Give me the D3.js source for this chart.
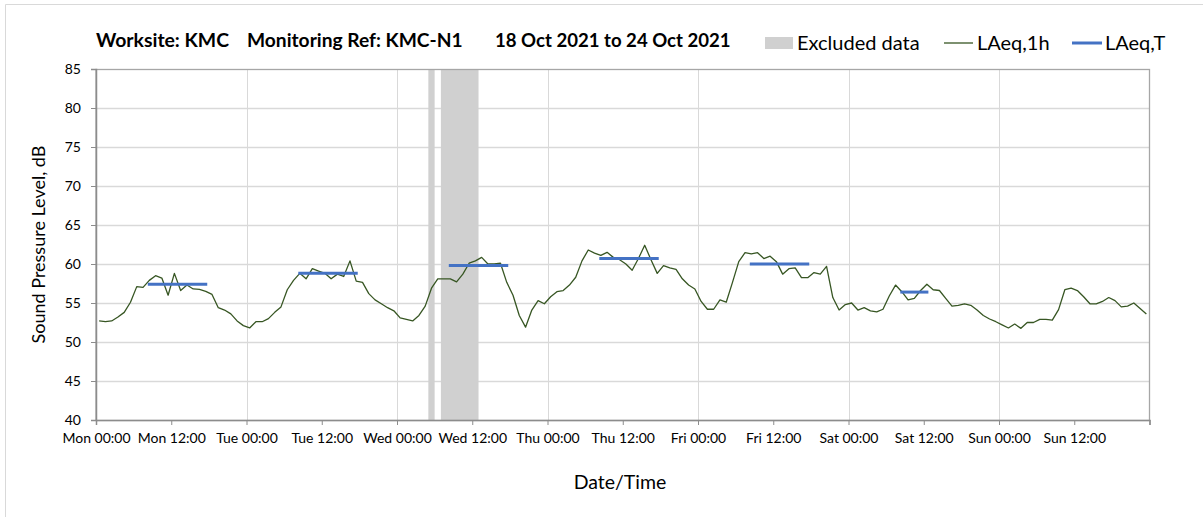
<!DOCTYPE html>
<html>
<head>
<meta charset="utf-8">
<script src="https://cdn.jsdelivr.net/npm/d3@7"></script>
<style>
  body { margin: 0; background: #fff; }
  svg text { font-family: Lato, "Open Sans", sans-serif; fill: #000; }
</style>
</head>
<body>
<div id="chart"></div>
<script>
// hourly LAeq,1h values, one array per day (00:00 .. 23:00)
const days = ['Mon', 'Tue', 'Wed', 'Thu', 'Fri', 'Sat', 'Sun'];
const laeqMon = [52.7, 52.6, 52.7, 53.2, 53.8, 55.1, 57.1, 57.0, 57.9, 58.5, 58.2, 56.0, 58.8, 56.6, 57.3, 56.8, 56.75, 56.5, 56.1, 54.4, 54.1, 53.6, 52.7, 52.1];
const laeqTue = [51.8, 52.6, 52.6, 53.0, 53.8, 54.5, 56.7, 57.9, 58.8, 58.1, 59.4, 59.1, 58.8, 58.1, 58.7, 58.4, 60.4, 57.8, 57.65, 56.2, 55.4, 54.9, 54.4, 54.0];
const laeqWed = [53.1, 52.9, 52.7, 53.4, 54.6, 56.9, 58.1, 58.1, 58.1, 57.7, 58.7, 60.1, 60.4, 60.85, 60.0, 60.0, 60.1, 57.65, 56.0, 53.4, 51.9, 54.1, 55.3, 54.9];
const laeqThu = [55.8, 56.45, 56.6, 57.3, 58.3, 60.4, 61.8, 61.4, 61.1, 61.5, 60.85, 60.55, 60.0, 59.2, 60.7, 62.4, 60.55, 58.8, 59.8, 59.5, 59.3, 58.1, 57.3, 56.8];
const laeqFri = [55.2, 54.2, 54.2, 55.4, 55.1, 57.65, 60.3, 61.45, 61.3, 61.45, 60.7, 61.0, 60.3, 58.7, 59.4, 59.5, 58.25, 58.25, 58.9, 58.7, 59.7, 55.7, 54.1, 54.8];
const laeqSat = [55.0, 54.1, 54.4, 54.0, 53.85, 54.2, 55.9, 57.3, 56.45, 55.4, 55.6, 56.6, 57.4, 56.7, 56.6, 55.6, 54.6, 54.7, 54.9, 54.7, 54.1, 53.4, 52.95, 52.6];
const laeqSun = [52.2, 51.8, 52.3, 51.75, 52.5, 52.5, 52.9, 52.9, 52.8, 54.15, 56.7, 56.9, 56.6, 55.8, 54.9, 54.9, 55.2, 55.7, 55.3, 54.5, 54.6, 55.0, 54.3, 53.6];

// LAeq,T per day: first and last hourly point covered, and level
const tDay = [0, 1, 2, 3, 4, 5];
const tFromHour = [8, 8, 8, 8, 8, 8];
const tToHour = [17, 17, 17, 17, 17, 12];
const tValue = [57.4, 58.8, 59.8, 60.7, 60.0, 56.4];

// excluded periods
const excludedStart = ['2021-10-20T05:00', '2021-10-20T07:00'];
const excludedEnd = ['2021-10-20T06:00', '2021-10-20T13:00'];

const yTicks = [40, 45, 50, 55, 60, 65, 70, 75, 80, 85];

const width = 1203,
      height = 517,
      margin = {top: 69, right: 53.5, bottom: 97, left: 96};

const parse = d3.timeParse('%Y-%m-%dT%H:%M');
const t0 = parse('2021-10-18T00:00'),
      t1 = parse('2021-10-25T00:00');

// each hourly value sits in the middle of its hour
const hourTime = (day, h) => d3.timeMinute.offset(t0, day * 1440 + h * 60 + 30);

const hourly = [laeqMon, laeqTue, laeqWed, laeqThu, laeqFri, laeqSat, laeqSun]
  .flatMap((vals, day) => vals.map((v, h) => ({t: hourTime(day, h), v})));

const x = d3.scaleTime()
  .domain([t0, t1])
  .range([margin.left, width - margin.right]);

const y = d3.scaleLinear()
  .domain([40, 85])
  .range([height - margin.bottom, margin.top]);

const svg = d3.select('#chart')
  .append('svg')
  .attr('width', width)
  .attr('height', height);

svg.append('rect')
  .attr('width', width)
  .attr('height', height)
  .attr('fill', '#fff');

// outer chart frame
svg.append('path')
  .attr('d', `M5.5,${height}V4.5H${width}`)
  .attr('fill', 'none')
  .attr('stroke', '#d9d9d9');

// gridlines
svg.append('g')
  .selectAll('line')
  .data(yTicks.slice(1, -1))
  .enter().append('line')
    .attr('x1', margin.left)
    .attr('x2', width - margin.right)
    .attr('y1', d => Math.round(y(d)) + 0.5)
    .attr('y2', d => Math.round(y(d)) + 0.5)
    .attr('stroke', '#d9d9d9')
    .attr('stroke-width', 1.3);

svg.append('g')
  .selectAll('line')
  .data(d3.timeDay.range(d3.timeDay.offset(t0, 1), t1))
  .enter().append('line')
    .attr('x1', d => Math.round(x(d)) + 0.5)
    .attr('x2', d => Math.round(x(d)) + 0.5)
    .attr('y1', margin.top)
    .attr('y2', height - margin.bottom)
    .attr('stroke', '#d9d9d9')
    .attr('stroke-width', 1);

// excluded data
svg.append('g')
  .selectAll('rect')
  .data(excludedStart.map((s, i) => ({s: parse(s), e: parse(excludedEnd[i])})))
  .enter().append('rect')
    .attr('x', d => x(d.s))
    .attr('width', d => x(d.e) - x(d.s))
    .attr('y', margin.top)
    .attr('height', y(40) - y(85))
    .attr('fill', '#d0d0d0');

// plot border
svg.append('rect')
  .attr('x', margin.left)
  .attr('y', margin.top + 0.5)
  .attr('width', width - margin.right - margin.left)
  .attr('height', y(40) - y(85))
  .attr('fill', 'none')
  .attr('stroke', '#a6a6a6')
  .attr('stroke-width', 1.3);

// axes
const yAxis = svg.append('g')
  .attr('transform', `translate(${margin.left},0)`)
  .call(d3.axisLeft(y).tickValues(yTicks).tickSize(5).tickPadding(10))
  .call(g => g.select('.domain').attr('stroke', '#8c8c8c').attr('stroke-width', 1.5));
yAxis.selectAll('.tick line').attr('stroke', '#8c8c8c');
yAxis.selectAll('.tick text').attr('font-size', 14).attr('fill', '#000');

const xTickTimes = d3.timeHour.every(12).range(t0, t1);
const xAxis = svg.append('g')
  .attr('transform', `translate(0,${y(40)})`)
  .call(d3.axisBottom(x).tickValues(xTickTimes.concat([t1])).tickSize(5).tickPadding(8)
    .tickFormat(d => +d === +t1 ? '' : d3.timeFormat('%a %H:%M')(d)))
  .call(g => g.select('.domain').attr('stroke', '#8c8c8c').attr('stroke-width', 1.5));
xAxis.selectAll('.tick line').attr('stroke', '#8c8c8c');
xAxis.selectAll('.tick text').attr('font-size', 14).attr('fill', '#000');

// LAeq,1h line
const line = d3.line()
  .x(d => x(d.t))
  .y(d => y(d.v));

svg.append('path')
  .datum(hourly)
  .attr('d', line)
  .attr('fill', 'none')
  .attr('stroke', '#375623')
  .attr('stroke-width', 1.3)
  .attr('stroke-linejoin', 'round');

// LAeq,T segments
svg.append('g')
  .selectAll('line')
  .data(tDay.map((day, i) => ({day, a: tFromHour[i], b: tToHour[i], v: tValue[i]})))
  .enter().append('line')
    .attr('x1', d => x(hourTime(d.day, d.a)))
    .attr('x2', d => x(hourTime(d.day, d.b)))
    .attr('y1', d => y(d.v))
    .attr('y2', d => y(d.v))
    .attr('stroke', '#4472c4')
    .attr('stroke-width', 3)
    .attr('stroke-linecap', 'square');

// title
const title = [
  {text: 'Worksite: KMC', x: 96, size: 19.4},
  {text: 'Monitoring Ref: KMC-N1', x: 247, size: 19.2},
  {text: '18 Oct 2021 to 24 Oct 2021', x: 495, size: 18.6}
];
svg.append('g')
  .selectAll('text')
  .data(title)
  .enter().append('text')
    .attr('x', d => d.x)
    .attr('y', 47)
    .attr('font-size', d => d.size)
    .attr('font-weight', 'bold')
    .text(d => d.text);

// legend
const legend = svg.append('g');
legend.append('rect')
  .attr('x', 765).attr('y', 37).attr('width', 28).attr('height', 12)
  .attr('fill', '#d0d0d0');
legend.append('text')
  .attr('x', 797).attr('y', 50).attr('font-size', 20)
  .text('Excluded data');
legend.append('line')
  .attr('x1', 944).attr('x2', 973).attr('y1', 43).attr('y2', 43)
  .attr('stroke', '#375623').attr('stroke-width', 1.3);
legend.append('text')
  .attr('x', 977).attr('y', 50).attr('font-size', 20)
  .text('LAeq,1h');
legend.append('line')
  .attr('x1', 1072).attr('x2', 1102).attr('y1', 43).attr('y2', 43)
  .attr('stroke', '#4472c4').attr('stroke-width', 3);
legend.append('text')
  .attr('x', 1105).attr('y', 50).attr('font-size', 20)
  .text('LAeq,T');

// axis titles
svg.append('text')
  .attr('x', 620)
  .attr('y', 489)
  .attr('text-anchor', 'middle')
  .attr('font-size', 19.5)
  .text('Date/Time');

svg.append('text')
  .attr('transform', `translate(45,${(y(40) + y(85)) / 2}) rotate(-90)`)
  .attr('text-anchor', 'middle')
  .attr('font-size', 18)
  .text('Sound Pressure Level, dB');
</script>
</body>
</html>
